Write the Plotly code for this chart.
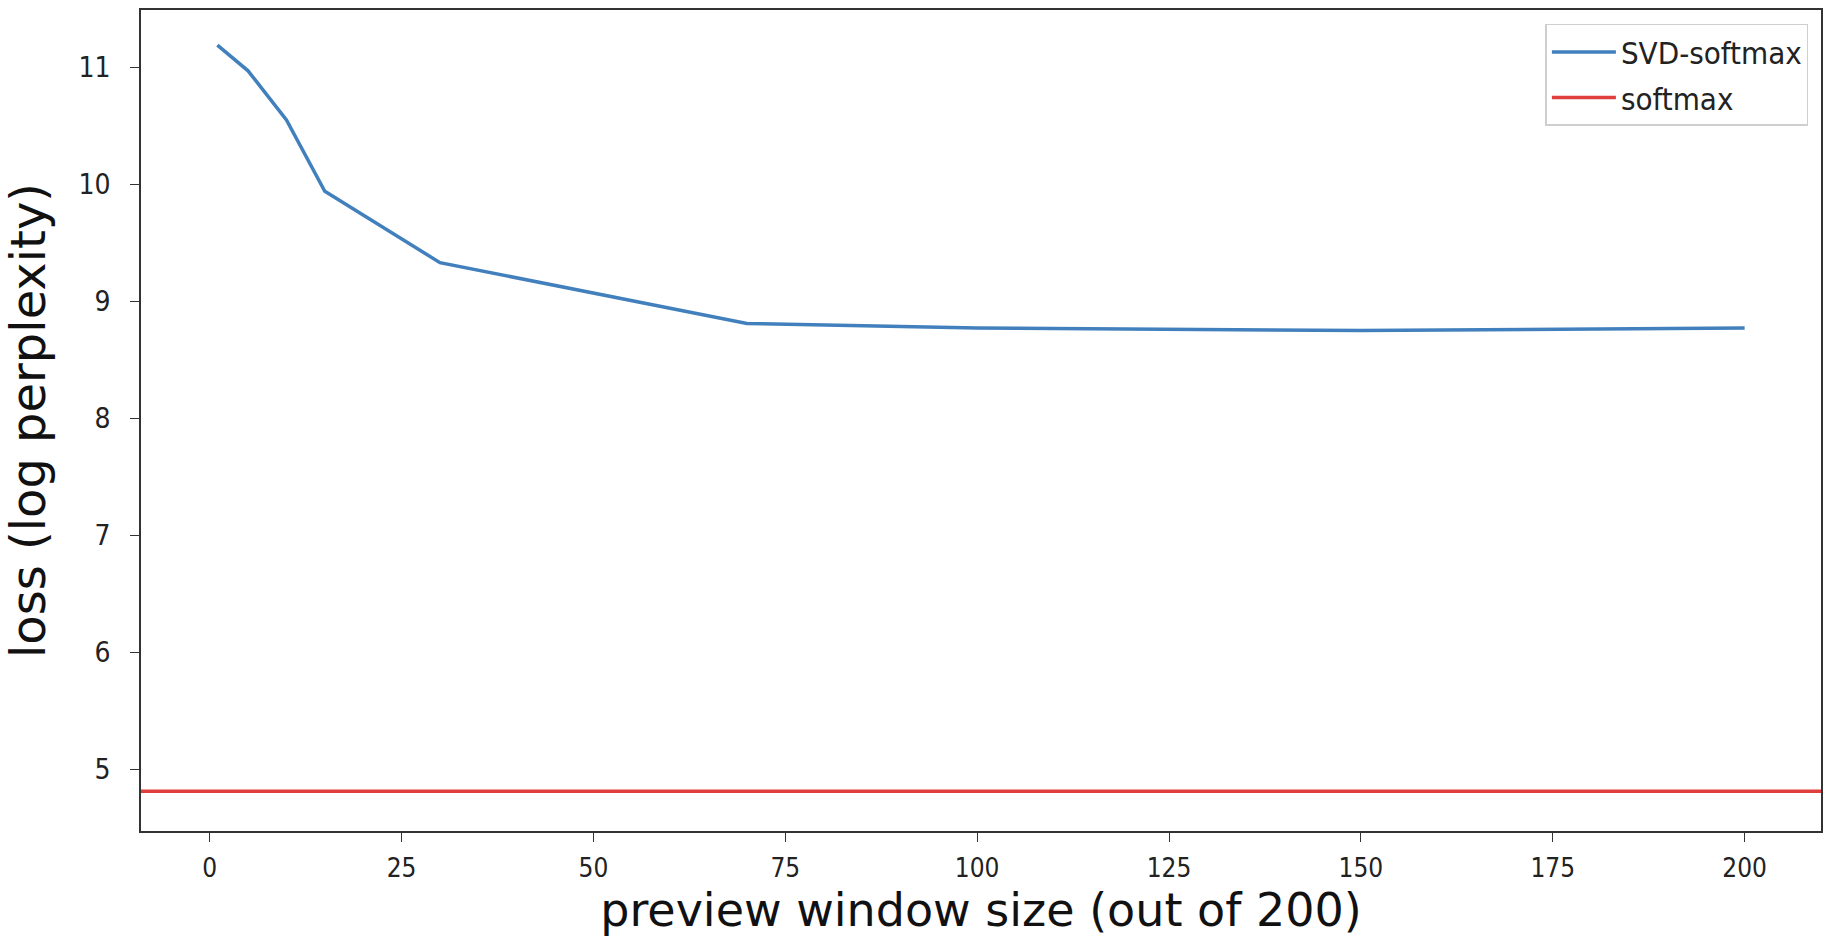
import plotly.graph_objects as go

window_size = [1, 5, 10, 15, 30, 70, 100, 150, 200]
svd_loss = [11.19, 10.97, 10.55, 9.94, 9.33, 8.81, 8.77, 8.75, 8.77]
softmax_loss = 4.81
x_ticks = [0, 25, 50, 75, 100, 125, 150, 175, 200]
y_ticks = [5, 6, 7, 8, 9, 10, 11]

x_range = [-8.95, 209.95]

fig = go.Figure()
fig.add_trace(go.Scatter(
    x=window_size, y=svd_loss, mode="lines", name="SVD-softmax",
    legendgroup="a",
    line=dict(color="#4280bd", width=3.5),
))
fig.add_trace(go.Scatter(
    x=x_range, y=[softmax_loss, softmax_loss], mode="lines", name="softmax",
    legendgroup="b",
    line=dict(color="#df3f3d", width=3.5),
))

narrow = "Liberation Sans Narrow, DejaVu Sans Condensed, DejaVu Sans"
axis_common = dict(
    showline=True, linecolor="#333", linewidth=1.6, mirror=True,
    ticks="outside", ticklen=9, tickwidth=1.3, tickcolor="#333",
    showgrid=False, zeroline=False,
)

fig.update_layout(
    width=1825, height=939,
    margin=dict(l=141, r=2, t=10, b=108),
    paper_bgcolor="white", plot_bgcolor="white",
    showlegend=True,
    legend=dict(
        x=0.9925, y=0.983, xanchor="right", yanchor="top",
        bgcolor="rgba(255,255,255,0.9)", bordercolor="#cfcfcf", borderwidth=1.5,
        font=dict(family="DejaVu Sans Condensed, DejaVu Sans", size=31, color="#222"),
        itemwidth=64,
        tracegroupgap=2,
    ),
    xaxis=dict(
        range=x_range, tickvals=x_ticks,
        ticklabelstandoff=4,
        tickfont=dict(family=narrow, size=26, color="#222"),
        title=dict(text="preview window size (out of 200)",
                   font=dict(family="DejaVu Sans", size=46, color="#111"), standoff=10),
        **axis_common,
    ),
    yaxis=dict(
        range=[4.47, 11.49], tickvals=y_ticks,
        ticklabelstandoff=14,
        tickfont=dict(family=narrow, size=28, color="#222"),
        title=dict(text="loss (log perplexity)",
                   font=dict(family="DejaVu Sans", size=48, color="#111"), standoff=18),
        **axis_common,
    ),
)

fig.write_html("out.html", config={"displayModeBar": False},
               post_script="document.body.style.margin='0';")
